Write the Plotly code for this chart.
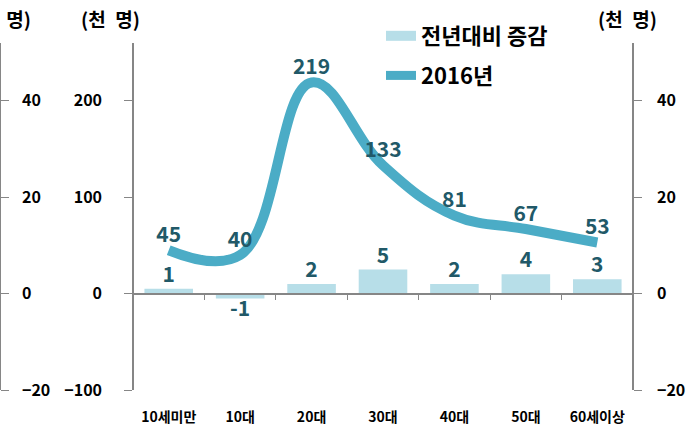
import plotly.graph_objects as go

categories = ["10세미만", "10대", "20대", "30대", "40대", "50대", "60세이상"]
change_vals = [1, -1, 2, 5, 2, 4, 3]          # 전년대비 증감 (right axis)
line_vals = [45, 40, 219, 133, 81, 67, 53]    # 2016년 (left axis)
left_ticks = [-100, 0, 100, 200]
right_ticks = [-20, 0, 20, 40]

W, H = 691, 428
FONT = "Noto Sans CJK KR"
LBL = "#215968"
AX = "#868686"
BAR_C = "#B7DEE8"
LINE_C = "#4BACC6"

x0, x1 = 133 / W, 633 / W
y0, y1 = 1 - 390 / H, 1 - 43 / H
lrange = [-100, 260]
rrange = [-20, 52]
zero_pos = y0 + (0 - lrange[0]) / (lrange[1] - lrange[0]) * (y1 - y0)

lblfont = dict(family=FONT, size=21, color=LBL, weight="bold")

fig = go.Figure()
fig.add_trace(go.Bar(
    x=categories, y=change_vals, name="전년대비 증감", yaxis="y2",
    marker=dict(color=BAR_C, line=dict(width=0)), width=0.68,
    hoverinfo="skip", showlegend=False))
fig.add_trace(go.Scatter(
    x=categories, y=change_vals, yaxis="y2", mode="markers+text",
    marker=dict(size=1, opacity=0),
    text=[str(v) for v in change_vals],
    textposition=["top center" if v >= 0 else "bottom center" for v in change_vals],
    textfont=lblfont, cliponaxis=False, hoverinfo="skip", showlegend=False))
fig.add_trace(go.Scatter(
    x=categories, y=line_vals, name="2016년", yaxis="y",
    mode="lines+markers+text",
    line=dict(color=LINE_C, width=10, shape="spline", smoothing=1.15),
    marker=dict(size=3, opacity=0),
    text=[str(v) for v in line_vals], textposition="top center",
    textfont=lblfont, cliponaxis=False, hoverinfo="skip",
    showlegend=False))
# legend proxies
fig.add_trace(go.Scatter(x=[None], y=[None], mode="lines", name="전년대비 증감",
                         line=dict(color=BAR_C, width=11), legendgroup="a"))
fig.add_trace(go.Scatter(x=[None], y=[None], mode="lines", name="2016년",
                         line=dict(color=LINE_C, width=9), legendgroup="b"))
# invisible trace to hold the clipped left-edge copy of the right axis
fig.add_trace(go.Bar(x=categories, y=change_vals, yaxis="y3", opacity=0,
                     showlegend=False, hoverinfo="skip", width=0.68))

tickfont = dict(family=FONT, size=16, color="black", weight="bold")
fig.update_layout(
    width=W, height=H, margin=dict(l=0, r=0, t=0, b=0, autoexpand=False),
    paper_bgcolor="white", plot_bgcolor="white",
    font=dict(family=FONT, color="black", weight="bold"),
    barmode="overlay",
    xaxis=dict(type="category", range=[-0.5, 6.5], domain=[x0, x1],
               anchor="free", position=zero_pos, automargin=False,
               showline=True, linecolor=AX, linewidth=1.5,
               ticks="outside", tickson="boundaries", ticklen=6, tickcolor=AX,
               ticklabelstandoff=111, showgrid=False, zeroline=False,
               tickfont=dict(family=FONT, size=14, color="black", weight="bold")),
    yaxis=dict(range=lrange, domain=[y0, y1], anchor="free", position=x0,
               side="left", tickvals=left_ticks, showline=True, linecolor=AX,
               linewidth=1.5, ticks="outside", ticklen=8, tickcolor=AX,
               ticklabelstandoff=19, showgrid=False, zeroline=False,
               automargin=False, tickfont=tickfont),
    yaxis2=dict(range=rrange, overlaying="y", anchor="free", position=x1,
                side="right", tickvals=right_ticks, showline=True,
                linecolor=AX, linewidth=1.5, ticks="outside", ticklen=8,
                tickcolor=AX, ticklabelstandoff=12, showgrid=False,
                zeroline=False, automargin=False, tickfont=tickfont),
    yaxis3=dict(range=rrange, overlaying="y", anchor="free", position=0,
                side="right", tickvals=right_ticks, showline=True,
                linecolor=AX, linewidth=1.5, ticks="outside", ticklen=8,
                tickcolor=AX, ticklabelstandoff=10, showgrid=False,
                zeroline=False, automargin=False, tickfont=tickfont),
    legend=dict(x=381 / W, y=1 - 15 / H, xanchor="left", yanchor="top",
                font=dict(family=FONT, size=22, color="black", weight="bold"),
                bgcolor="rgba(0,0,0,0)", traceorder="grouped",
                tracegroupgap=8, itemwidth=30),
    showlegend=True,
)
title_font = dict(family=FONT, size=19, color="black", weight="bold")
for px in (110, 627, 1):
    fig.add_annotation(text="(천\u2002명)", x=px / W, y=1 - 19 / H, xref="paper",
                       yref="paper", xanchor="center", yanchor="middle",
                       showarrow=False, font=title_font)

fig.write_html("out.html",
               config={"displayModeBar": False},
               post_script="document.body.style.margin='0';"
                           "document.body.style.overflow='hidden';")
